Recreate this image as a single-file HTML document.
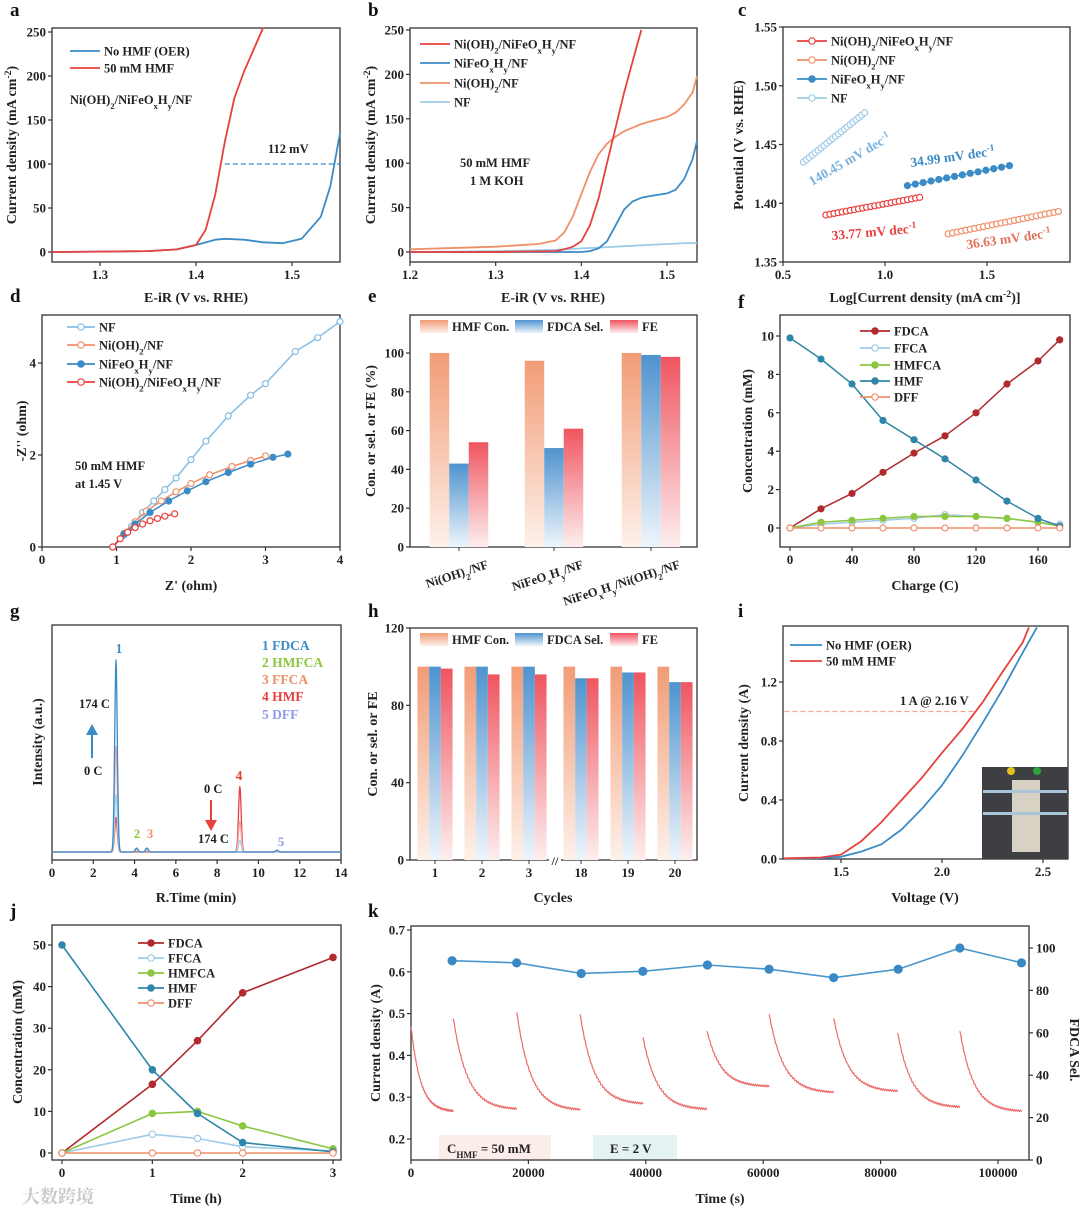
<!DOCTYPE html>
<html><head><meta charset="utf-8">
<style>
html,body{margin:0;padding:0;background:#fff;}
svg{display:block;font-family:"Liberation Serif","Noto Serif CJK SC",serif;font-weight:bold;}
</style></head>
<body>
<svg id="fig" width="1080" height="1213" viewBox="0 0 1080 1213" xmlns="http://www.w3.org/2000/svg">
<defs>
<linearGradient id="gCon" x1="0" y1="0" x2="0" y2="1"><stop offset="0" stop-color="#f29c76"/><stop offset="1" stop-color="#fdf1ea"/></linearGradient>
<linearGradient id="gSel" x1="0" y1="0" x2="0" y2="1"><stop offset="0" stop-color="#4f93cf"/><stop offset="1" stop-color="#eef5fb"/></linearGradient>
<linearGradient id="gFE" x1="0" y1="0" x2="0" y2="1"><stop offset="0" stop-color="#ef5560"/><stop offset="1" stop-color="#fdeeee"/></linearGradient>
</defs>
</svg>
<script>
// ---------- data ----------
const aRedV=[1.25,1.30,1.35,1.38,1.40,1.41,1.42,1.43,1.44,1.45,1.46,1.47];
const aRedI=[0,0.5,1,3,8,25,65,125,175,205,230,255];
const aBlueV=[1.25,1.30,1.35,1.38,1.40,1.42,1.43,1.45,1.47,1.49,1.51,1.53,1.54,1.55];
const aBlueI=[0,0.5,1,3,8,14,15,14,11,10,15,40,75,135];

const bV=[1.2,1.3,1.35,1.37,1.38,1.39,1.40,1.41,1.42,1.43,1.44,1.45,1.46,1.47,1.48,1.50,1.51,1.52,1.53,1.535];
const bNF=[0,1,2,2.5,3,3.5,4,4.5,5,5.5,6,6.5,7,7.5,8,9,9.5,10,10,10];
const bNi=[3,6,9,13,22,40,65,90,110,122,130,136,140,144,147,152,157,166,180,198];
const bNiFe=[0,0,0,0,0,0,0,1,4,12,30,48,57,61,63,66,70,82,105,125];
const bRedV=[1.2,1.3,1.37,1.38,1.39,1.40,1.41,1.42,1.43,1.44,1.45,1.46,1.47];
const bRed=[0,0,1,3,6,12,30,60,100,140,180,215,250];

const cNames=["Ni(OH)2/NiFeOxHy/NF","Ni(OH)2/NF","NiFeOxHy/NF","NF"];
const cX0=[0.71,1.31,1.11,0.60], cX1=[1.17,1.85,1.61,0.90];
const cY0=[1.390,1.374,1.415,1.435], cY1=[1.405,1.393,1.432,1.477];
const cN=[24,26,14,22];

const dNFx=[0.95,1.1,1.2,1.35,1.5,1.65,1.8,2.0,2.2,2.5,2.8,3.0,3.4,3.7,4.0];
const dNFy=[0,0.25,0.45,0.75,1.0,1.25,1.5,1.9,2.3,2.85,3.3,3.55,4.25,4.55,4.9];
const dNix=[0.95,1.1,1.25,1.4,1.6,1.8,2.0,2.25,2.55,2.8,3.0];
const dNiy=[0,0.3,0.55,0.78,1.0,1.2,1.38,1.57,1.75,1.88,1.98];
const dFex=[0.95,1.1,1.25,1.45,1.7,1.95,2.2,2.5,2.8,3.1,3.3];
const dFey=[0,0.28,0.5,0.75,1.0,1.22,1.42,1.62,1.8,1.95,2.02];
const dRx=[0.95,1.05,1.15,1.25,1.35,1.45,1.55,1.65,1.78];
const dRy=[0,0.18,0.32,0.42,0.5,0.57,0.62,0.67,0.72];

const eCats=["Ni(OH)2/NF","NiFeOxHy/NF","NiFeOxHy/Ni(OH)2/NF"];
const eCon=[100,96,100], eSel=[43,51,99], eFE=[54,61,98];

const fQ=[0,20,40,60,80,100,120,140,160,174];
const fFDCA=[0,1.0,1.8,2.9,3.9,4.8,6.0,7.5,8.7,9.8];
const fFFCA=[0,0.2,0.3,0.4,0.5,0.7,0.6,0.5,0.3,0.2];
const fHMFCA=[0,0.3,0.4,0.5,0.6,0.6,0.6,0.5,0.3,0.1];
const fHMF=[9.9,8.8,7.5,5.6,4.6,3.6,2.5,1.4,0.5,0.1];
const fDFF=[0,0,0,0,0,0,0,0,0,0];

const gPeakT=[3.1,4.1,4.6,9.1,10.9];
const g174=[1.0,0.02,0.02,0.0,0.01];
const gMid=[0.55,0.02,0.02,0.16,0.005];
const g0=[0.18,0.0,0.0,0.34,0.0];

const hCycles=["1","2","3","18","19","20"];
const hCon=[100,100,100,100,100,100], hSel=[100,100,100,94,97,92], hFE=[99,96,96,94,97,92];

const iRV=[1.22,1.4,1.5,1.6,1.7,1.8,1.9,2.0,2.1,2.2,2.3,2.4,2.43];
const iRed=[0.005,0.01,0.03,0.12,0.25,0.4,0.55,0.72,0.88,1.06,1.27,1.47,1.57];
const iBV=[1.22,1.4,1.5,1.6,1.7,1.8,1.9,2.0,2.1,2.2,2.3,2.4,2.47];
const iBlue=[0.003,0.006,0.015,0.05,0.1,0.2,0.34,0.5,0.7,0.92,1.15,1.4,1.57];

const jT=[0,1,1.5,2,3];
const jFDCA=[0,16.5,27,38.5,47], jFFCA=[0,4.5,3.5,1.5,0.5], jHMFCA=[0,9.5,10,6.5,1], jHMF=[50,20,9.5,2.5,0.3], jDFF=[0,0,0,0,0];

const kSelT=[7000,18000,29000,39500,50500,61000,72000,83000,93500,104000];
const kSel=[94,93,88,89,92,90,86,90,100,93];
const kSegT0=[0,7200,18000,28800,39500,50400,61000,72000,82900,93500];
const kSegT1=[7200,18000,28800,39500,50400,61000,72000,82900,93500,104000];
const kSegI0=[0.47,0.49,0.505,0.50,0.445,0.46,0.50,0.49,0.455,0.46];
const kSegI1=[0.265,0.27,0.268,0.283,0.27,0.325,0.31,0.313,0.275,0.265];

// ---------- helpers ----------
const NS="http://www.w3.org/2000/svg";
const S=document.getElementById('fig');
function lin(d0,d1,p0,p1){return v=>p0+(v-d0)*(p1-p0)/(d1-d0);}
function mk(tag,attrs,parent){const e=document.createElementNS(NS,tag);for(const k in attrs)e.setAttribute(k,attrs[k]);(parent||S).appendChild(e);return e;}
function sub(s){return s.replace(/\(OH\)2/g,'(OH)<tspan baseline-shift="sub" font-size="70%">2</tspan>').replace(/Ox/g,'O<tspan baseline-shift="sub" font-size="70%">x</tspan>').replace(/Hy/g,'H<tspan baseline-shift="sub" font-size="70%">y</tspan>');}
function T(x,y,s,size,color,anchor,rot){const e=mk('text',{x:x,y:y,'font-size':size||13,fill:color||'#222','text-anchor':anchor||'start'});if(rot)e.setAttribute('transform','rotate('+rot+' '+x+' '+y+')');e.innerHTML=s;return e;}
function grp(name){const g=mk('g',{});return g;}
function frame(g,x0,y0,x1,y1){const r=mk('rect',{x:x0,y:y0,width:x1-x0,height:y1-y0,fill:'none',stroke:'#333','stroke-width':1.3},g);}
function xticks(g,sx,vals,yb,fmt){vals.forEach(v=>{const x=sx(v);mk('line',{x1:x,x2:x,y1:yb,y2:yb+4,stroke:'#333','stroke-width':1.2},g);const t=T(x,yb+17,fmt?fmt(v):String(v),13,'#222','middle');g.appendChild(t);});}
function yticks(g,sy,vals,xl,fmt,right){vals.forEach(v=>{const y=sy(v);mk('line',{x1:xl,x2:right?xl+4:xl-4,y1:y,y2:y,stroke:'#333','stroke-width':1.2},g);const t=T(right?xl+7:xl-6,y+4.5,fmt?fmt(v):String(v),13,'#222',right?'start':'end');g.appendChild(t);});}
function line(g,xs,ys,sx,sy,color,w,name,dash){const d=xs.map((v,i)=>(i?'L':'M')+sx(v).toFixed(1)+' '+sy(ys[i]).toFixed(1)).join(' ');const p=mk('path',{d:d,fill:'none',stroke:color,'stroke-width':w||1.8,'stroke-linejoin':'round'},g);if(dash)p.setAttribute('stroke-dasharray',dash);return p;}
function dots(g,xs,ys,sx,sy,color,r,name,hollow){xs.forEach((v,i)=>{const c=mk('circle',{cx:sx(v),cy:sy(ys[i]),r:r||3.3,fill:hollow?'#fff':color,stroke:color,'stroke-width':1.2},g);});}
function legLine(g,x,y,color,label,marker,hollow,len){len=len||30;mk('line',{x1:x,x2:x+len,y1:y,y2:y,stroke:color,'stroke-width':1.8},g);if(marker)mk('circle',{cx:x+len/2,cy:y,r:3.2,fill:hollow?'#fff':color,stroke:color,'stroke-width':1.2},g);const t=T(x+len+4,y+4.5,sub(label),12.5,'#222');g.appendChild(t);}
function letter(s,x,y){const t=T(x,y,s,19,'#111');}
function title(g,x,y,s,rot){const t=T(x,y,s,14,'#222','middle',rot);g.appendChild(t);}

const BL='#3b8bc6', RD='#e8403d', SA='#ef9068', LB='#9fcbe8', GR='#8cc63e', DR='#b02a2e', LV='#8f9be6';

// ---------- panel a ----------
{const g=grp('panel-a');const sx=lin(1.25,1.55,52,340),sy=lin(0,250,252,32);
frame(g,52,28,340,262);xticks(g,sx,[1.3,1.4,1.5],262,v=>v.toFixed(1));yticks(g,sy,[0,50,100,150,200,250],52);
line(g,aBlueV,aBlueI,sx,sy,BL,1.8,'series-no-hmf');line(g,aRedV,aRedI,sx,sy,RD,1.8,'series-50mm-hmf');
line(g,[1.43,1.55],[100,100],sx,sy,BL,1.3,'overpotential-line','5,3');
T(268,153,'112 mV',12.5);legLine(g,70,51,BL,'No HMF (OER)');legLine(g,70,68,RD,'50 mM HMF');
T(70,104,sub('Ni(OH)2/NiFeOxHy/NF'),12.5);
title(g,196,302,'E-iR (V vs. RHE)');title(g,16,145,'Current density (mA cm<tspan baseline-shift="super" font-size="70%">-2</tspan>)',-90);letter('a',10,16);}

// ---------- panel b ----------
{const g=grp('panel-b');const sx=lin(1.2,1.5,410,667),sy=lin(0,250,252,30);
frame(g,410,28,697,262);xticks(g,sx,[1.2,1.3,1.4,1.5],262,v=>v.toFixed(1));yticks(g,sy,[0,50,100,150,200,250],410);
line(g,bV,bNF,sx,sy,LB,1.8,'series-nf');line(g,bV,bNi,sx,sy,SA,1.8,'series-nioh2');line(g,bV,bNiFe,sx,sy,BL,1.8,'series-nifeoxhy');line(g,bRedV,bRed,sx,sy,RD,1.8,'series-nioh2-nifeoxhy');
legLine(g,420,44,RD,'Ni(OH)2/NiFeOxHy/NF');legLine(g,420,63,BL,'NiFeOxHy/NF');legLine(g,420,83,SA,'Ni(OH)2/NF');legLine(g,420,102,LB,'NF');
T(460,167,'50 mM HMF',12.5);T(470,185,'1 M KOH',12.5);
title(g,553,302,'E-iR (V vs. RHE)');title(g,375,145,'Current density (mA cm<tspan baseline-shift="super" font-size="70%">-2</tspan>)',-90);letter('b',368,16);}

// ---------- panel c ----------
{const g=grp('panel-c');const sx=lin(0.5,1.5,783,987),sy=lin(1.35,1.55,262,27);
frame(g,783,27,1070,262);xticks(g,sx,[0.5,1.0,1.5],262,v=>v.toFixed(1));yticks(g,sy,[1.35,1.40,1.45,1.50,1.55],783,v=>v.toFixed(2));
const cols=[RD,SA,BL,LB];
cNames.forEach((n,k)=>{const xs=[],ys=[];for(let i=0;i<cN[k];i++){xs.push(cX0[k]+(cX1[k]-cX0[k])*i/(cN[k]-1));ys.push(cY0[k]+(cY1[k]-cY0[k])*i/(cN[k]-1));}
line(g,xs,ys,sx,sy,cols[k],1.2,'tafel-line-'+k);dots(g,xs,ys,sx,sy,cols[k],3,'tafel-point',k!==2);});
legLine(g,797,41,RD,cNames[0],true,true);legLine(g,797,60,SA,cNames[1],true,true);legLine(g,797,79,BL,cNames[2],true,false);legLine(g,797,98,LB,cNames[3],true,true);
T(812,186,'140.45 mV dec<tspan baseline-shift="super" font-size="70%">-1</tspan>',13.5,'#7bb2dc','start',-30);
T(911,167,'34.99 mV dec<tspan baseline-shift="super" font-size="70%">-1</tspan>',13.5,BL,'start',-8);
T(832,240,'33.77 mV dec<tspan baseline-shift="super" font-size="70%">-1</tspan>',13.5,RD,'start',-5);
T(967,249,'36.63 mV dec<tspan baseline-shift="super" font-size="70%">-1</tspan>',13.5,'#e0735a','start',-8);
title(g,925,302,'Log[Current density (mA cm<tspan baseline-shift="super" font-size="70%">-2</tspan>)]');title(g,743,145,'Potential (V vs. RHE)',-90);letter('c',738,16);}

// ---------- panel d ----------
{const g=grp('panel-d');const sx=lin(0,4,42,340),sy=lin(0,4,547,363);
frame(g,42,315,340,547);xticks(g,sx,[0,1,2,3,4],547);yticks(g,sy,[0,2,4],42);
line(g,dNFx,dNFy,sx,sy,'#86bde3',1.5,'series-nf');dots(g,dNFx,dNFy,sx,sy,'#86bde3',3,'nf-point',true);
line(g,dNix,dNiy,sx,sy,SA,1.5,'series-nioh2');dots(g,dNix,dNiy,sx,sy,SA,3,'nioh2-point',true);
line(g,dFex,dFey,sx,sy,BL,1.5,'series-nifeoxhy');dots(g,dFex,dFey,sx,sy,BL,3,'nifeoxhy-point',false);
line(g,dRx,dRy,sx,sy,RD,1.5,'series-nioh2-nifeoxhy');dots(g,dRx,dRy,sx,sy,RD,3,'red-point',true);
legLine(g,67,327,'#86bde3','NF',true,true,28);legLine(g,67,345,SA,'Ni(OH)2/NF',true,true,28);legLine(g,67,364,BL,'NiFeOxHy/NF',true,false,28);legLine(g,67,382,RD,'Ni(OH)2/NiFeOxHy/NF',true,true,28);
T(75,470,'50 mM HMF',12.5);T(75,488,'at 1.45 V',12.5);
title(g,191,590,"Z' (ohm)");title(g,26,431,"-Z'' (ohm)",-90);letter('d',10,302);}

// ---------- panel e ----------
{const g=grp('panel-e');const sy=lin(0,100,547,353);const cx=[459,554,651],bw=19.5;
frame(g,410,315,697,547);yticks(g,sy,[0,20,40,60,80,100],410);
[[eCon,'gCon','con'],[eSel,'gSel','sel'],[eFE,'gFE','fe']].forEach((s,j)=>{s[0].forEach((v,i)=>{const x=cx[i]+(j-1.5)*bw;const r=mk('rect',{x:x,y:sy(v),width:bw,height:sy(0)-sy(v),fill:'url(#'+s[1]+')'},g);});});
eCats.forEach((c,i)=>{const t=T(cx[i]+30,568,sub(c),12.5,'#222','end',-18);g.appendChild(t);mk('line',{x1:cx[i],x2:cx[i],y1:547,y2:551,stroke:'#333'},g);});
[['gCon','HMF Con.',420],['gSel','FDCA Sel.',515],['gFE','FE',610]].forEach(l=>{const r=mk('rect',{x:l[2],y:320,width:28,height:13,fill:'url(#'+l[0]+')'},g);T(l[2]+32,331,l[1],12.5);});
title(g,375,431,'Con. or sel. or FE (%)',-90);letter('e',368,302);}

// ---------- panel f ----------
{const g=grp('panel-f');const sx=lin(0,160,790,1038),sy=lin(0,10,528,336);
frame(g,780,315,1070,547);xticks(g,sx,[0,40,80,120,160],547);yticks(g,sy,[0,2,4,6,8,10],780);
[[fFDCA,DR,'fdca'],[fFFCA,LB,'ffca'],[fHMFCA,GR,'hmfca'],[fHMF,'#2f86a8','hmf'],[fDFF,SA,'dff']].forEach(s=>{line(g,fQ,s[0],sx,sy,s[1],1.5,'series-'+s[2]);dots(g,fQ,s[0],sx,sy,s[1],3,s[2]+'-point',s[2]==='ffca'||s[2]==='dff');});
legLine(g,860,331,DR,'FDCA',true);legLine(g,860,348,LB,'FFCA',true,true);legLine(g,860,365,GR,'HMFCA',true);legLine(g,860,381,'#2f86a8','HMF',true);legLine(g,860,397,SA,'DFF',true,true);
title(g,925,590,'Charge (C)');title(g,752,431,'Concentration (mM)',-90);letter('f',738,308);}

// ---------- panel g ----------
{const g=grp('panel-g');const sx=lin(0,14,52,341),base=852,sc=192;
frame(g,52,625,341,860);xticks(g,sx,[0,2,4,6,8,10,12,14],860);
function trace(h,col,name){const xs=[],ys=[];for(let t=0;t<=14;t+=0.02){let v=0;gPeakT.forEach((p,i)=>{v+=h[i]*Math.exp(-Math.pow((t-p)/0.09,2));});xs.push(t);ys.push(v);}line(g,xs,ys,sx,v=>base-v*sc,col,1.3,name);}
trace(g0,RD,'trace-0c');trace(gMid,'#f2a7a7','trace-mid');trace([0.3,0.01,0.01,0.06,0],'#a9d3ee','trace-mid2');trace(g174,BL,'trace-174c');
T(119,653,'1',13.5,BL,'middle');T(137,838,'2',13,GR,'middle');T(150,838,'3',13,SA,'middle');T(239,780,'4',13.5,RD,'middle');T(281,846,'5',13,LV,'middle');
T(262,650,'1 FDCA',13.5,BL);T(262,667,'2 HMFCA',13.5,GR);T(262,684,'3 FFCA',13.5,SA);T(262,701,'4 HMF',13.5,RD);T(262,719,'5 DFF',13.5,LV);
T(79,708,'174 C',12.5);T(84,775,'0 C',12.5);mk('line',{x1:92,x2:92,y1:758,y2:733,stroke:BL,'stroke-width':2},g);mk('path',{d:'M86 735 L92 724 L98 735 Z',fill:BL},g);
T(204,793,'0 C',12.5);T(198,843,'174 C',12.5);mk('line',{x1:211,x2:211,y1:800,y2:822,stroke:RD,'stroke-width':2},g);mk('path',{d:'M205 820 L211 831 L217 820 Z',fill:RD},g);
title(g,196,902,'R.Time (min)');title(g,42,742,'Intensity (a.u.)',-90);letter('g',10,617);}

// ---------- panel h ----------
{const g=grp('panel-h');const sy=lin(0,120,860,628);const cx=[435,482,529,581,628,675],bw=11.7;
frame(g,410,628,697,860);yticks(g,sy,[0,40,80,120],410);
[[hCon,'gCon','con'],[hSel,'gSel','sel'],[hFE,'gFE','fe']].forEach((s,j)=>{s[0].forEach((v,i)=>{const x=cx[i]+(j-1.5)*bw;const r=mk('rect',{x:x,y:sy(v),width:bw,height:sy(0)-sy(v),fill:'url(#'+s[1]+')'},g);});});
hCycles.forEach((c,i)=>{mk('line',{x1:cx[i],x2:cx[i],y1:860,y2:864,stroke:'#333'},g);const t=T(cx[i],877,c,13,'#222','middle');g.appendChild(t);});
mk('rect',{x:549,y:854,width:12,height:12,fill:'#fff'},g);T(555,865,'//',12,'#222','middle');
[['gCon','HMF Con.',420],['gSel','FDCA Sel.',515],['gFE','FE',610]].forEach(l=>{const r=mk('rect',{x:l[2],y:633,width:28,height:13,fill:'url(#'+l[0]+')'},g);T(l[2]+32,644,l[1],12.5);});
title(g,553,902,'Cycles');title(g,377,744,'Con. or sel. or FE',-90);letter('h',368,617);}

// ---------- panel i ----------
{const g=grp('panel-i');const sx=lin(1.5,2.5,841,1043),sy=lin(0,1.2,859,682);
frame(g,783,626,1068,859);xticks(g,sx,[1.5,2.0,2.5],859,v=>v.toFixed(1));yticks(g,sy,[0,0.4,0.8,1.2],783,v=>v.toFixed(1));
const ph=mk('rect',{x:982,y:767,width:86,height:92,fill:'#3d3f42'},g);
mk('rect',{x:1012,y:780,width:28,height:72,fill:'#d8d2c4'},g);mk('rect',{x:983,y:790,width:84,height:3,fill:'#a9c6d8'},g);mk('rect',{x:983,y:812,width:84,height:3,fill:'#a9c6d8'},g);
mk('circle',{cx:1011,cy:771,r:4,fill:'#e3c21c'},g);mk('circle',{cx:1037,cy:771,r:4,fill:'#2fa33a'},g);
line(g,[1.22,2.16],[1.0,1.0],lin(1.5,2.5,841,1043),sy,'#f3a88d',1.2,'reference-1A','5,3');
line(g,iBV,iBlue,sx,sy,BL,1.8,'series-no-hmf');line(g,iRV,iRed,sx,sy,RD,1.8,'series-50mm-hmf');
T(900,705,'1 A @ 2.16 V',12.5);legLine(g,790,645,BL,'No HMF (OER)',false,false,32);legLine(g,790,661,RD,'50 mM HMF',false,false,32);
title(g,925,902,'Voltage (V)');title(g,748,743,'Current density (A)',-90);letter('i',738,617);}

// ---------- panel j ----------
{const g=grp('panel-j');const sx=lin(0,3,62,333),sy=lin(0,50,1153,945);
frame(g,52,925,341,1160);xticks(g,sx,[0,1,2,3],1160);yticks(g,sy,[0,10,20,30,40,50],52);
[[jFDCA,DR,'fdca'],[jFFCA,LB,'ffca'],[jHMFCA,GR,'hmfca'],[jHMF,'#2f86a8','hmf'],[jDFF,SA,'dff']].forEach(s=>{line(g,jT,s[0],sx,sy,s[1],1.6,'series-'+s[2]);dots(g,jT,s[0],sx,sy,s[1],3.2,s[2]+'-point',s[2]==='ffca'||s[2]==='dff');});
legLine(g,138,943,DR,'FDCA',true,false,26);legLine(g,138,958,LB,'FFCA',true,true,26);legLine(g,138,973,GR,'HMFCA',true,false,26);legLine(g,138,988,'#2f86a8','HMF',true,false,26);legLine(g,138,1003,SA,'DFF',true,true,26);
title(g,196,1203,'Time (h)');title(g,22,1042,'Concentration (mM)',-90);letter('j',10,917);}

// ---------- panel k ----------
{const g=grp('panel-k');const sx=lin(0,100000,411,998),sy=lin(0.2,0.7,1139,930),sr=lin(0,100,1160,948);
frame(g,411,926,1029,1160);xticks(g,sx,[0,20000,40000,60000,80000,100000],1160);yticks(g,sy,[0.2,0.3,0.4,0.5,0.6,0.7],411,v=>v.toFixed(1));yticks(g,sr,[0,20,40,60,80,100],1029,null,true);
const bx1=mk('rect',{x:439,y:1135,width:112,height:24,fill:'#fbeeea'},g);
T(447,1153,'C<tspan baseline-shift="sub" font-size="70%">HMF</tspan> = 50 mM',13);
const bx2=mk('rect',{x:593,y:1135,width:84,height:24,fill:'#e5f2f4'},g);
T(610,1153,'E = 2 V',13);
kSegT0.forEach((t0,i)=>{const xs=[],ys=[];const n=60;for(let j=0;j<=n;j++){const f=j/n;xs.push(t0+(kSegT1[i]-t0)*f);ys.push(kSegI1[i]+(kSegI0[i]-kSegI1[i])*Math.exp(-f*4.5)+(j%2?0.002:-0.002));}line(g,xs,ys,sx,sy,'#ec6b6b',1.2,'current-segment-'+(i+1));});
line(g,kSelT,kSel,sx,sr,'#4b97cc',1.6,'fdca-selectivity-line');dots(g,kSelT,kSel,sx,sr,'#3a88c4',4,'selectivity-point');
title(g,720,1203,'Time (s)');title(g,380,1043,'Current density (A)',-90);title(g,1070,1050,'FDCA Sel.',90);letter('k',368,917);}

const wm=T(22,1203,'大数跨境',18,'#c8c8c8');
</script>
</body></html>
